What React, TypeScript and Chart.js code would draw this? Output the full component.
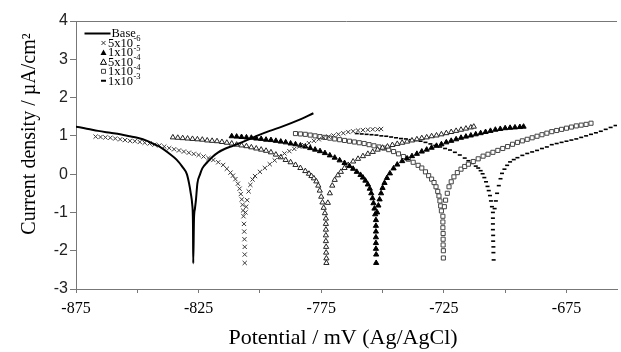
import React, { useEffect, useRef } from 'react';
import { Chart, registerables } from 'chart.js';

Chart.register(...registerables);

// ---- axis ticks ----
const xTickValues = [-875, -850, -825, -800, -775, -750, -725, -700, -675];
const xLabelValues = [-875, -825, -775, -725, -675];
const yTickValues = [-3, -2, -1, 0, 1, 2, 3, 4];

// ---- legend ----
const legendNames = ['Base', '5x10', '1x10', '5x10', '1x10', '1x10'];
const legendExponents = ['', '-6', '-5', '-4', '-4', '-3'];

const xTitle = 'Potential / mV (Ag/AgCl)';
const yTitle = 'Current density / µA/cm²';

// ---- series: [potential mV, current density] ----
const baseCurve: [number, number][] = [
  [-878, 1.26], [-875, 1.24], [-870, 1.18], [-866, 1.13], [-861, 1.08], [-857, 1.04], [-853, 0.99],
  [-850, 0.95], [-846, 0.87], [-843.7, 0.8], [-840, 0.68], [-837, 0.54], [-834, 0.38], [-831.6, 0.19],
  [-829.8, 0.0], [-828.9, -0.24], [-828.2, -0.5], [-827.6, -0.8], [-827.3, -1.3], [-827.2, -2.33],
  [-826.9, -1.2], [-826.5, -0.9], [-826.1, -0.68], [-825.5, -0.24], [-824.5, -0.02], [-823.5, 0.15],
  [-821.5, 0.31], [-819.4, 0.45], [-817, 0.57], [-814, 0.67], [-811, 0.74], [-808.6, 0.8], [-804, 0.92],
  [-800.5, 1.02], [-796, 1.13], [-791, 1.24], [-784.3, 1.41], [-778.2, 1.59],
];

const conc5e6: [number, number][] = [
  [-867, 0.98], [-865, 0.97], [-863, 0.96], [-861, 0.95], [-859, 0.93], [-857, 0.91], [-855, 0.89],
  [-853, 0.87], [-851, 0.86], [-849, 0.84], [-847, 0.82], [-845, 0.8], [-843, 0.77], [-841, 0.75],
  [-839, 0.72], [-837, 0.68], [-835, 0.65], [-833, 0.62], [-831, 0.59], [-829, 0.56], [-827, 0.53],
  [-825, 0.5], [-823, 0.46], [-821, 0.42], [-819, 0.37], [-817, 0.31], [-815, 0.24], [-813.5, 0.14],
  [-812, 0.04], [-811, -0.04], [-810, -0.13], [-809, -0.25], [-808.3, -0.38], [-807.8, -0.52],
  [-807.4, -0.66], [-807.1, -0.8], [-806.9, -0.95], [-806.7, -1.1], [-806.5, -1.3], [-806.4, -1.5],
  [-806.3, -1.7], [-806.2, -1.9], [-806.2, -2.1], [-806.2, -2.32], [-805.9, -1.0], [-805.6, -0.85],
  [-805.2, -0.68], [-804.6, -0.45], [-803.9, -0.28], [-803, -0.14], [-802, -0.05], [-800, 0.06],
  [-798, 0.16], [-796, 0.26], [-794, 0.36], [-792, 0.46], [-790, 0.54], [-788, 0.6], [-786, 0.66],
  [-784, 0.72], [-782, 0.76], [-780, 0.81], [-778, 0.87], [-776, 0.91], [-774, 0.95], [-772, 0.98],
  [-770, 1.01], [-768, 1.04], [-766, 1.07], [-764, 1.1], [-762, 1.12], [-760, 1.14], [-758, 1.15],
  [-756, 1.16], [-754, 1.17], [-752, 1.17], [-750.6, 1.18],
];

const conc1e5: [number, number][] = [
  [-811.5, 0.99], [-809.5, 0.98], [-807.5, 0.97], [-805.5, 0.96], [-803.5, 0.95], [-801.5, 0.93],
  [-799.5, 0.92], [-797.5, 0.9], [-795.5, 0.89], [-793.5, 0.87], [-791.5, 0.85], [-789.5, 0.83],
  [-787.5, 0.8], [-785.5, 0.78], [-783.5, 0.75], [-781.5, 0.72], [-779.5, 0.68], [-777.5, 0.64],
  [-775.5, 0.6], [-773.5, 0.55], [-771.5, 0.49], [-769.5, 0.43], [-767.5, 0.36], [-765.5, 0.29],
  [-763.5, 0.21], [-762, 0.14], [-760.5, 0.06], [-759, -0.02], [-758, -0.09], [-757, -0.17],
  [-756, -0.27], [-755.2, -0.38], [-754.6, -0.5], [-754.1, -0.63], [-753.7, -0.76], [-753.3, -0.9],
  [-753, -1.05], [-752.7, -1.2], [-752.7, -1.35], [-752.7, -1.5], [-752.7, -1.65], [-752.7, -1.8],
  [-752.7, -1.95], [-752.6, -2.1], [-752.6, -2.32], [-752.2, -1.0], [-751.7, -0.82], [-751.2, -0.66],
  [-750.6, -0.5], [-750, -0.36], [-749.2, -0.23], [-748.2, -0.1], [-747, 0.02], [-745.5, 0.15],
  [-744, 0.25], [-742, 0.34], [-740, 0.41], [-738, 0.47], [-736, 0.53], [-734, 0.59], [-732, 0.64],
  [-730, 0.69], [-728, 0.74], [-726, 0.78], [-724, 0.83], [-722, 0.87], [-720, 0.91], [-718, 0.95],
  [-716, 0.98], [-714, 1.01], [-712, 1.04], [-710, 1.07], [-708, 1.1], [-706, 1.13], [-704, 1.16],
  [-702, 1.18], [-700, 1.2], [-698, 1.21], [-696, 1.22], [-694, 1.23], [-692.5, 1.24],
];

const conc5e4: [number, number][] = [
  [-835.5, 0.96], [-833.5, 0.95], [-831.5, 0.94], [-829.5, 0.93], [-827.5, 0.92], [-825.5, 0.91],
  [-823.5, 0.9], [-821.5, 0.88], [-819.5, 0.87], [-817.5, 0.86], [-815.5, 0.84], [-813.5, 0.82],
  [-811.5, 0.8], [-809.5, 0.77], [-807.5, 0.75], [-805.5, 0.73], [-803.5, 0.7], [-801.5, 0.67],
  [-799.5, 0.64], [-797.5, 0.61], [-795.5, 0.57], [-793.5, 0.51], [-791.5, 0.44], [-789.5, 0.37],
  [-787.5, 0.31], [-785.5, 0.24], [-783.5, 0.16], [-781.5, 0.08], [-780, 0.01], [-779, -0.05],
  [-778, -0.11], [-777, -0.19], [-776.2, -0.3], [-775.6, -0.43], [-775, -0.59], [-774.5, -0.74],
  [-774, -0.88], [-773.5, -1.02], [-773.1, -1.16], [-773.1, -1.3], [-773.1, -1.45], [-773.1, -1.6],
  [-773.1, -1.75], [-773.0, -1.9], [-773.0, -2.05], [-772.9, -2.2], [-772.9, -2.32], [-772.3, -0.75],
  [-771.5, -0.5], [-770.5, -0.3], [-769.5, -0.15], [-768.2, -0.03], [-767, 0.06], [-765.5, 0.16],
  [-764, 0.24], [-762, 0.33], [-760, 0.4], [-758, 0.47], [-756, 0.53], [-754, 0.58], [-752, 0.64],
  [-750, 0.69], [-748, 0.72], [-746, 0.76], [-744, 0.79], [-742, 0.82], [-740, 0.85], [-738, 0.88],
  [-736, 0.91], [-734, 0.94], [-732, 0.96], [-730, 0.99], [-728, 1.01], [-726, 1.04], [-724, 1.07],
  [-722, 1.1], [-720, 1.13], [-718, 1.16], [-716, 1.19], [-714, 1.22], [-712.8, 1.24],
];

const conc1e4: [number, number][] = [
  [-785.5, 1.06], [-783.5, 1.05], [-781.5, 1.04], [-779.5, 1.02], [-777.5, 1.0], [-775.5, 0.98],
  [-773.5, 0.96], [-771.5, 0.94], [-769.5, 0.92], [-767.5, 0.9], [-765.5, 0.88], [-763.5, 0.86],
  [-761.5, 0.84], [-759.5, 0.82], [-757.5, 0.8], [-755.5, 0.77], [-753.5, 0.74], [-751.5, 0.71],
  [-749.5, 0.68], [-747.5, 0.64], [-745.5, 0.59], [-743.5, 0.53], [-741.5, 0.46], [-739.5, 0.39],
  [-737.5, 0.31], [-735.5, 0.23], [-734, 0.16], [-732.5, 0.06], [-731.2, -0.04], [-730, -0.13],
  [-729, -0.22], [-728.2, -0.33], [-727.5, -0.45], [-727, -0.57], [-726.6, -0.7], [-726.3, -0.83],
  [-726, -0.96], [-725.4, -1.1], [-725.4, -1.25], [-725.4, -1.4], [-725.3, -1.55], [-725.3, -1.7],
  [-725.3, -1.85], [-725.2, -2.0], [-725.2, -2.19], [-724.8, -0.85], [-724.3, -0.68], [-723.6, -0.5],
  [-722.9, -0.33], [-722, -0.2], [-720.9, -0.07], [-719.5, 0.04], [-718, 0.13], [-716.5, 0.2],
  [-715, 0.26], [-713, 0.33], [-711, 0.4], [-709, 0.47], [-707, 0.52], [-705, 0.57], [-703, 0.62],
  [-701, 0.67], [-699, 0.72], [-697, 0.78], [-695, 0.83], [-693, 0.87], [-691, 0.91], [-689, 0.95],
  [-687, 0.99], [-685, 1.03], [-683, 1.07], [-681, 1.11], [-679, 1.14], [-677, 1.17], [-675, 1.2],
  [-673, 1.23], [-671, 1.26], [-669, 1.28], [-667, 1.3], [-665, 1.33],
];

const conc1e3: [number, number][] = [
  [-760.5, 1.06], [-758.5, 1.05], [-756.5, 1.04], [-754.5, 1.03], [-752.5, 1.02], [-750.5, 1.0],
  [-748.5, 0.99], [-746.5, 0.97], [-744.5, 0.95], [-742.5, 0.93], [-740.5, 0.92], [-738.5, 0.9],
  [-736.5, 0.88], [-734.5, 0.86], [-732.5, 0.83], [-730.5, 0.79], [-728.5, 0.75], [-726.5, 0.71],
  [-724.5, 0.67], [-722.5, 0.63], [-720.5, 0.57], [-718.5, 0.5], [-716.5, 0.42], [-715, 0.35],
  [-713.5, 0.28], [-712, 0.21], [-711, 0.16], [-710, 0.09], [-709.2, 0.01], [-708.5, -0.09],
  [-707.8, -0.2], [-707.2, -0.32], [-706.7, -0.43], [-706.2, -0.56], [-705.8, -0.7], [-705.4, -0.85],
  [-705, -1.0], [-705, -1.15], [-705, -1.3], [-705, -1.45], [-704.9, -1.6], [-704.9, -1.75],
  [-704.8, -1.9], [-704.8, -2.05], [-704.7, -2.24], [-704.3, -0.9], [-703.8, -0.7], [-703.3, -0.5],
  [-702.6, -0.3], [-701.9, -0.12], [-701.3, 0.02], [-700.3, 0.13], [-699.2, 0.23], [-698, 0.32],
  [-696.5, 0.38], [-695, 0.43], [-693, 0.49], [-691, 0.54], [-689, 0.58], [-687, 0.62], [-685, 0.67],
  [-683, 0.71], [-681, 0.77], [-679, 0.8], [-677, 0.83], [-675, 0.86], [-673, 0.89], [-671, 0.92],
  [-669, 0.96], [-667, 1.0], [-665, 1.04], [-663, 1.08], [-661, 1.12], [-659, 1.17], [-657, 1.22],
  [-655, 1.27], [-653, 1.3],
];

const toPoints = (s: [number, number][]) => s.map(([x, y]) => ({ x, y }));

const framePlugin = {
  id: 'frameTop',
  afterDraw(chart: any) {
    const { ctx, chartArea } = chart;
    ctx.save();
    ctx.strokeStyle = '#777';
    ctx.lineWidth = 1;
    ctx.beginPath();
    ctx.moveTo(chartArea.left, chartArea.top + 0.5);
    ctx.lineTo(chartArea.right, chartArea.top + 0.5);
    ctx.stroke();
    ctx.restore();
  },
};

const drawLegendMarker = (ctx: CanvasRenderingContext2D, i: number, x: number, y: number) => {
  ctx.save();
  ctx.strokeStyle = '#000';
  ctx.fillStyle = '#000';
  ctx.lineWidth = 1;
  ctx.beginPath();
  if (i === 0) {
    ctx.lineWidth = 2;
    ctx.moveTo(x - 19, y);
    ctx.lineTo(x + 7, y);
    ctx.stroke();
  } else if (i === 1) {
    ctx.strokeStyle = '#333';
    ctx.moveTo(x - 2, y - 2);
    ctx.lineTo(x + 2, y + 2);
    ctx.moveTo(x - 2, y + 2);
    ctx.lineTo(x + 2, y - 2);
    ctx.stroke();
  } else if (i === 2 || i === 3) {
    ctx.moveTo(x, y - 3);
    ctx.lineTo(x - 3, y + 2.5);
    ctx.lineTo(x + 3, y + 2.5);
    ctx.closePath();
    if (i === 2) ctx.fill();
    else ctx.stroke();
  } else if (i === 4) {
    ctx.strokeStyle = '#444';
    ctx.rect(x - 2, y - 2, 4, 4);
    ctx.stroke();
  } else {
    ctx.lineWidth = 2;
    ctx.moveTo(x - 2.5, y);
    ctx.lineTo(x + 2.5, y);
    ctx.stroke();
  }
  ctx.restore();
};

const legendPlugin = {
  id: 'insideLegend',
  afterDraw(chart: any) {
    const { ctx } = chart;
    ctx.save();
    ctx.fillStyle = '#000';
    ctx.textAlign = 'left';
    ctx.textBaseline = 'alphabetic';
    legendNames.forEach((name, i) => {
      const cy = 33 + i * 9.45;
      drawLegendMarker(ctx, i, 103.5, cy + 0.5);
      const tx = i === 0 ? 111.5 : 108;
      ctx.font = '12.5px "Liberation Serif"';
      ctx.fillText(name, tx, cy + 4.3);
      const exp = legendExponents[i];
      if (exp) {
        const w = ctx.measureText(name).width;
        ctx.font = '8.5px "Liberation Serif"';
        ctx.fillText(exp, tx + w + 0.5, cy - 1);
      }
    });
    ctx.restore();
  },
};

const titlePlugin = {
  id: 'axisTitles',
  afterDraw(chart: any) {
    const { ctx } = chart;
    ctx.save();
    ctx.fillStyle = '#000';
    ctx.textAlign = 'center';
    ctx.textBaseline = 'alphabetic';
    ctx.font = '22px "Liberation Serif"';
    ctx.fillText(xTitle, 343, 344);
    ctx.translate(35, 134);
    ctx.rotate(-Math.PI / 2);
    ctx.font = '20px "Liberation Serif"';
    ctx.fillText(yTitle, 0, 0);
    ctx.restore();
  },
};

export default function App() {
  const canvasRef = useRef<HTMLCanvasElement | null>(null);

  useEffect(() => {
    const canvas = canvasRef.current;
    if (!canvas) return;
    const scatterBase = {
      showLine: false,
      borderWidth: 1,
      pointHoverRadius: 0,
    };
    const chart = new Chart(canvas, {
      type: 'scatter',
      data: {
        datasets: [
          {
            label: 'Base',
            data: toPoints(baseCurve),
            showLine: true,
            borderColor: '#000',
            borderWidth: 2,
            pointRadius: 0,
            cubicInterpolationMode: 'monotone',
          },
          {
            ...scatterBase,
            label: '5x10-6',
            data: toPoints(conc5e6),
            pointStyle: 'crossRot',
            pointRadius: 3,
            borderColor: '#3a3a3a',
            backgroundColor: '#3a3a3a',
          },
          {
            ...scatterBase,
            label: '1x10-5',
            data: toPoints(conc1e5),
            pointStyle: 'triangle',
            pointRadius: 3,
            borderColor: '#000',
            backgroundColor: '#000',
          },
          {
            ...scatterBase,
            label: '5x10-4',
            data: toPoints(conc5e4),
            pointStyle: 'triangle',
            pointRadius: 3,
            borderColor: '#222',
            backgroundColor: '#fff',
          },
          {
            ...scatterBase,
            label: '1x10-4',
            data: toPoints(conc1e4),
            pointStyle: 'rect',
            pointRadius: 2.9,
            borderColor: '#444',
            backgroundColor: '#fff',
          },
          {
            ...scatterBase,
            label: '1x10-3',
            data: toPoints(conc1e3),
            pointStyle: 'line',
            pointRadius: 2,
            borderWidth: 1.6,
            borderColor: '#000',
            backgroundColor: '#000',
          },
        ],
      },
      options: {
        animation: false,
        responsive: false,
        events: [],
        layout: { padding: { top: 21, left: 0, right: 0, bottom: 0 } },
        plugins: { legend: { display: false }, tooltip: { enabled: false } },
        scales: {
          x: {
            type: 'linear',
            min: -875,
            max: -654.4,
            afterBuildTicks: (s: any) => {
              s.ticks = xTickValues.map((v) => ({ value: v }));
            },
            afterFit: (s: any) => {
              s.height = 63;
            },
            ticks: {
              autoSkip: false,
              maxRotation: 0,
              padding: 6,
              color: '#000',
              font: { family: '"Liberation Serif"', size: 16 },
              callback: (v: any) => (xLabelValues.includes(Number(v)) ? String(v) : ''),
            },
            grid: { drawOnChartArea: false, drawTicks: true, tickLength: 4, color: '#777' },
            border: { color: '#777', width: 1 },
          },
          y: {
            type: 'linear',
            min: -3,
            max: 4,
            afterBuildTicks: (s: any) => {
              s.ticks = yTickValues.map((v) => ({ value: v }));
            },
            afterFit: (s: any) => {
              s.width = 76;
            },
            ticks: {
              padding: 2,
              color: '#222',
              font: { family: '"Liberation Sans"', size: 16 },
            },
            grid: { drawOnChartArea: false, drawTicks: true, tickLength: 6, color: '#777' },
            border: { color: '#777', width: 1 },
          },
        },
      } as any,
      plugins: [framePlugin, legendPlugin, titlePlugin],
    });
    return () => chart.destroy();
  }, []);

  return (
    <div style={{ position: 'absolute', left: 0, top: 0, width: 621, height: 352, background: '#fff' }}>
      <canvas ref={canvasRef} width={621} height={352} style={{ display: 'block' }} />
    </div>
  );
}
